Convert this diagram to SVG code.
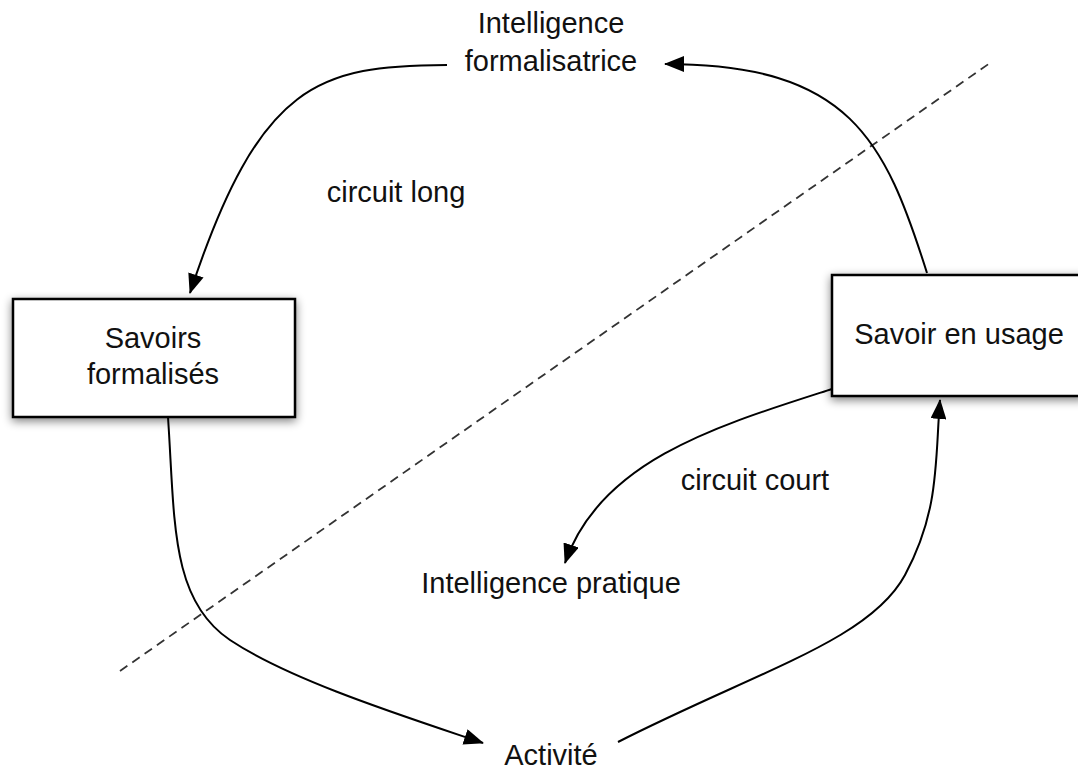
<svg xmlns="http://www.w3.org/2000/svg" width="1078" height="769" viewBox="0 0 1078 769">
<defs>
<marker id="ah" viewBox="0 0 20 16" refX="19" refY="8" markerWidth="20" markerHeight="16" markerUnits="userSpaceOnUse" orient="auto"><path d="M0,0 L20,8 L0,16 z" fill="#000"/></marker>
<filter id="sh" x="-20%" y="-20%" width="140%" height="140%"><feGaussianBlur in="SourceAlpha" stdDeviation="5"/><feOffset dx="0" dy="3"/><feComponentTransfer><feFuncA type="linear" slope="0.5"/></feComponentTransfer><feMerge><feMergeNode/><feMergeNode in="SourceGraphic"/></feMerge></filter>
<style>
text{font-family:"Liberation Sans",Arial,sans-serif;font-size:29px;fill:#111;text-anchor:middle}
.c{fill:none;stroke:#000;stroke-width:2}
.box{fill:#fff;stroke:#000;stroke-width:2.5}
</style>
</defs>
<rect width="1078" height="769" fill="#fff"/>
<g id="connectors">
<line x1="120" y1="671" x2="990" y2="63" stroke="#333" stroke-width="1.8" stroke-dasharray="9,6"/>
<path class="c" marker-end="url(#ah)" d="M447,65 C 320,66 260,80 190,293"/>
<path class="c" marker-end="url(#ah)" d="M927,273 C 885,140 850,64 665,64"/>
<path class="c" marker-end="url(#ah)" d="M168,417 C 175,520 170,600 230,640 S 400,715 483,743"/>
<path class="c" marker-end="url(#ah)" d="M618,742 C 760,670 870,640 905,575 S 935,460 940,400"/>
<path class="c" marker-end="url(#ah)" d="M832,389 C 720,425 600,460 565,563"/>
</g>
<g id="n-savoirs-formalises">
<rect class="box" x="13" y="299" width="282" height="118" filter="url(#sh)"/>
<text x="153" y="348">Savoirs</text>
<text x="153" y="384">formalisés</text>
</g>
<g id="n-savoir-usage">
<rect class="box" x="832" y="275" width="252" height="121" filter="url(#sh)"/>
<text x="959" y="344">Savoir en usage</text>
</g>
<g id="n-intel-formalisatrice">
<text x="551" y="33">Intelligence</text>
<text x="551" y="71">formalisatrice</text>
</g>
<g id="n-intel-pratique"><text x="551" y="593">Intelligence pratique</text></g>
<g id="n-activite"><text x="551" y="765">Activité</text></g>
<g id="l-circuit-long"><text x="396" y="202">circuit long</text></g>
<g id="l-circuit-court"><text x="755" y="490">circuit court</text></g>
</svg>
